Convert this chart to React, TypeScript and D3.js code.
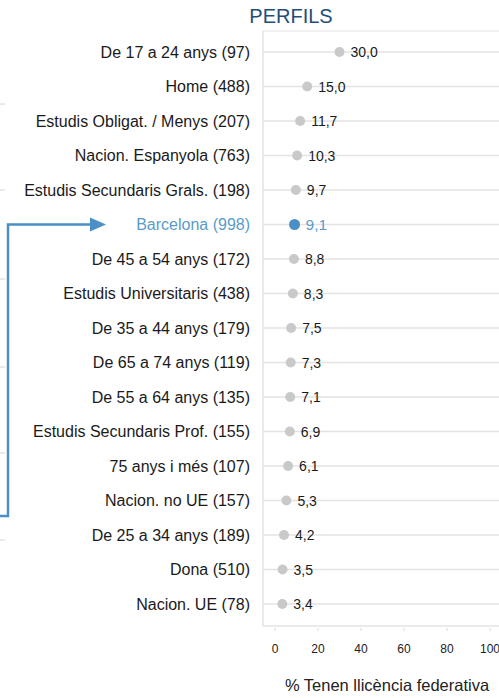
import * as d3 from 'd3';

const categories = [
    'De 17 a 24 anys (97)',
    'Home (488)',
    'Estudis Obligat. / Menys (207)',
    'Nacion. Espanyola (763)',
    'Estudis Secundaris Grals. (198)',
    'Barcelona (998)',
    'De 45 a 54 anys (172)',
    'Estudis Universitaris (438)',
    'De 35 a 44 anys (179)',
    'De 65 a 74 anys (119)',
    'De 55 a 64 anys (135)',
    'Estudis Secundaris Prof. (155)',
    '75 anys i més (107)',
    'Nacion. no UE (157)',
    'De 25 a 34 anys (189)',
    'Dona (510)',
    'Nacion. UE (78)',
];
const values = [30.0, 15.0, 11.7, 10.3, 9.7, 9.1, 8.8, 8.3, 7.5, 7.3, 7.1, 6.9, 6.1, 5.3, 4.2, 3.5, 3.4];
const highlight = 'Barcelona (998)';
const xTicks = [0, 20, 40, 60, 80, 100];

const width = 499;
const height = 698;
const plot = { left: 263, right: 499, top: 31, bottom: 626 };

const font = 'Arial, "Liberation Sans", sans-serif';
const blue = '#4a90c6';

export default function App() {
    const x = d3.scaleLinear().domain([0, 100]).range([275, 490]);
    const y = d3
        .scalePoint()
        .domain(categories)
        .range([52, 604]);

    const fmt = (v: number) => d3.format('.1f')(v).replace('.', ',');

    return (
        <svg
            width={width}
            height={height}
            style={{ position: 'absolute', left: 0, top: 0, background: '#fff' }}
            fontFamily={font}
        >
            {/* leftovers of neighbouring chart gridlines */}
            {[104, 190, 279, 367, 453, 540].map((gy) => (
                <line key={gy} x1={0} x2={5} y1={gy} y2={gy} stroke='#d4d4d4' strokeWidth={1} />
            ))}

            <text x={291} y={23} textAnchor='middle' fontSize={20} fill='#1f4e79'>
                PERFILS
            </text>

            {/* frame */}
            <line x1={plot.left} x2={plot.right} y1={plot.top} y2={plot.top} stroke='#e3e3e3' />
            <line x1={plot.left} x2={plot.left} y1={plot.top} y2={plot.bottom} stroke='#e3e3e3' strokeWidth={1.5} />
            <line x1={plot.left} x2={plot.right} y1={plot.bottom} y2={plot.bottom} stroke='#e3e3e3' strokeWidth={1.5} />

            {/* x ticks */}
            {xTicks.map((t) => (
                <g key={t}>
                    <line x1={x(t)} x2={x(t)} y1={plot.bottom + 2} y2={plot.bottom + 5} stroke='#d8d8d8' />
                    <text x={x(t)} y={653} textAnchor='middle' fontSize={12} fill='#222'>
                        {t}
                    </text>
                </g>
            ))}
            <text x={387} y={691} textAnchor='middle' fontSize={16.5} fill='#222'>
                % Tenen llicència federativa
            </text>

            {/* rows */}
            {categories.map((c, i) => {
                const isHl = c === highlight;
                const cy = y(c) as number;
                return (
                    <g key={c}>
                        <line x1={plot.left} x2={plot.right} y1={cy} y2={cy} stroke='#e3e3e3' strokeWidth={1.5} />
                        <text
                            x={250}
                            y={cy + 5.5}
                            textAnchor='end'
                            fontSize={16}
                            fill={isHl ? '#5b9bc9' : '#1a1a1a'}
                        >
                            {c}
                        </text>
                        <circle cx={x(values[i])} cy={cy} r={isHl ? 5.5 : 5} fill={isHl ? blue : '#c9c9c9'} />
                        <text
                            x={x(values[i]) + 11}
                            y={cy + 5}
                            fontSize={isHl ? 15.5 : 14}
                            fill={isHl ? '#5b9bc9' : '#1a1a1a'}
                        >
                            {fmt(values[i])}
                        </text>
                    </g>
                );
            })}

            {/* pointer arrow to highlighted row */}
            <polyline
                points={`0,516 8,516 8,${y(highlight)} 91,${y(highlight)}`}
                fill='none'
                stroke={blue}
                strokeWidth={2.5}
            />
            <path
                d={`M90,${(y(highlight) as number) - 7} L106,${y(highlight)} L90,${(y(highlight) as number) + 7} Z`}
                fill={blue}
            />
        </svg>
    );
}
